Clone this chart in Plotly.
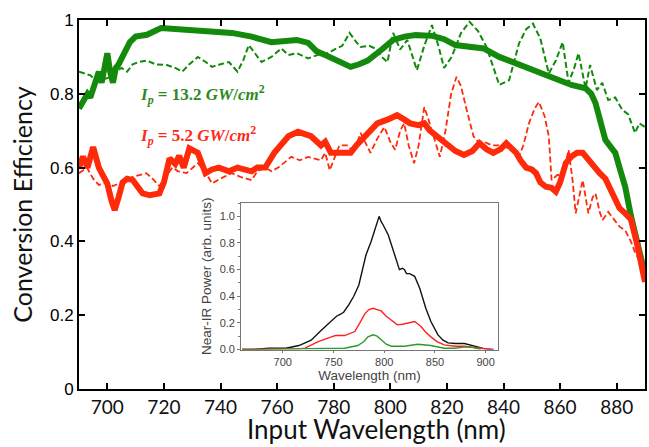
import plotly.graph_objects as go

# main plot: conversion efficiency vs input wavelength
green_solid_x = [690, 691.5, 693, 694, 695, 696, 697, 698, 699, 700, 701, 702, 703, 704, 706, 708, 710, 714,
                 719, 725, 732, 738, 744, 751, 758, 763, 767, 771, 774, 777, 781, 786, 789, 792, 797, 801,
                 805, 809, 815, 819, 823, 828, 833, 838.5, 843, 847, 851, 856, 860, 864, 869, 871, 872.5,
                 874, 876, 878, 879.5, 881, 883, 885, 887, 889, 890]
green_solid_y = [0.76, 0.78, 0.80, 0.79, 0.81, 0.84, 0.86, 0.83, 0.88, 0.91, 0.86, 0.83, 0.87, 0.88, 0.91,
                 0.94, 0.955, 0.96, 0.978, 0.975, 0.973, 0.97, 0.965, 0.955, 0.94, 0.943, 0.946, 0.938,
                 0.915, 0.905, 0.89, 0.873, 0.88, 0.89, 0.92, 0.946, 0.955, 0.959, 0.957, 0.948, 0.932,
                 0.928, 0.923, 0.90, 0.887, 0.873, 0.862, 0.851, 0.838, 0.824, 0.815, 0.80, 0.775, 0.73,
                 0.675, 0.655, 0.64, 0.60, 0.548, 0.47, 0.40, 0.33, 0.31]

green_dash_x = [690, 692, 694, 695.5, 697, 699, 701, 703, 705, 707, 709, 711, 714, 717, 721, 724, 726.5,
                729, 732, 735, 737, 740, 743, 746, 748, 750, 752, 754.5, 758, 761.5, 764, 767, 771, 775,
                778, 780, 783, 785.6, 788, 789.5, 792.6, 795.4, 797, 799, 801, 803.5, 806, 809.4, 812,
                814.7, 817, 819, 821.7, 825, 828, 831, 834, 836.5, 838.5, 842, 845.5, 848, 850.4, 853,
                856, 858.5, 860.9, 863, 865, 866.5, 869, 870.6, 873, 874.9, 877, 879.5, 882, 884, 886.5,
                888, 890]
green_dash_y = [0.86, 0.855, 0.85, 0.84, 0.837, 0.84, 0.845, 0.86, 0.87, 0.86, 0.88, 0.886, 0.89, 0.88,
                0.878, 0.87, 0.86, 0.88, 0.90, 0.885, 0.873, 0.88, 0.886, 0.86, 0.89, 0.932, 0.91, 0.886,
                0.90, 0.923, 0.905, 0.91, 0.896, 0.907, 0.91, 0.919, 0.93, 0.965, 0.94, 0.927, 0.93, 0.92,
                0.90, 0.886, 0.965, 0.92, 0.946, 0.864, 0.93, 0.986, 0.93, 0.87, 0.90, 0.965, 0.995,
                0.97, 0.927, 0.87, 0.824, 0.837, 0.937, 0.975, 0.99, 0.95, 0.855, 0.89, 0.94, 0.83, 0.87,
                0.91, 0.815, 0.878, 0.81, 0.83, 0.783, 0.79, 0.756, 0.745, 0.694, 0.72, 0.71]

red_solid_x = [690, 691.4, 693, 695, 697, 700, 701.5, 702.6, 704, 705.4, 707, 709, 712.5, 715, 718.4, 720,
               722, 724, 725.4, 727, 729, 732, 734.7, 737, 739.4, 743, 746, 748, 751, 753, 755.8, 759,
               762, 764, 767.4, 770, 772, 775.5, 777, 779, 782, 786, 788, 791, 795.4, 799, 802.4, 805,
               807, 810, 812, 814, 816.4, 819, 821, 823, 826, 829, 831.5, 834, 836.4, 839, 841, 843,
               844.5, 846, 848, 850, 851.5, 853, 855, 857, 858.5, 860, 862, 864, 866, 868, 870, 872.5,
               874, 876, 878, 879.5, 881, 883, 885, 887, 889, 890]
red_solid_y = [0.60, 0.63, 0.60, 0.656, 0.60, 0.557, 0.51, 0.485, 0.52, 0.56, 0.57, 0.566, 0.53, 0.525,
               0.53, 0.56, 0.625, 0.61, 0.632, 0.60, 0.652, 0.64, 0.585, 0.595, 0.60, 0.59, 0.60, 0.595,
               0.59, 0.60, 0.60, 0.64, 0.67, 0.685, 0.697, 0.69, 0.685, 0.66, 0.67, 0.64, 0.64, 0.64,
               0.66, 0.685, 0.72, 0.73, 0.742, 0.73, 0.72, 0.715, 0.72, 0.70, 0.685, 0.665, 0.656, 0.645,
               0.634, 0.645, 0.666, 0.65, 0.64, 0.65, 0.666, 0.65, 0.64, 0.62, 0.60, 0.595, 0.585, 0.56,
               0.548, 0.545, 0.535, 0.56, 0.612, 0.63, 0.64, 0.64, 0.62, 0.60, 0.585, 0.57, 0.54, 0.512,
               0.49, 0.476, 0.46, 0.40, 0.32, 0.29]

red_dash_x = [690, 692.8, 695, 697, 700, 702, 705, 709, 713.8, 716, 718.4, 721, 723, 725, 728, 732, 734.5,
              737, 740, 744, 747, 751, 753, 755.8, 758, 760.4, 763, 765, 768, 771, 775.5, 777, 778.6,
              782, 785, 787, 789.5, 791, 793, 795.5, 797.9, 800, 801.7, 803.5, 804.9, 806.5, 808.4, 810,
              812, 813.5, 814.7, 817.5, 819.5, 821.5, 823.4, 825, 827, 829.4, 831, 833, 836, 840, 843,
              845.5, 847, 849, 851, 852.5, 854.5, 856, 857, 859, 861, 863, 864.5, 865.5, 867, 868, 869,
              870, 871.5, 872.5, 874, 875, 877, 878, 879.5, 881, 883, 885, 886.5, 888, 890]
red_dash_y = [0.585, 0.60, 0.57, 0.553, 0.56, 0.55, 0.56, 0.575, 0.585, 0.57, 0.55, 0.58, 0.60, 0.59,
              0.585, 0.612, 0.59, 0.557, 0.57, 0.585, 0.575, 0.566, 0.59, 0.60, 0.59, 0.60, 0.615, 0.629,
              0.62, 0.629, 0.62, 0.64, 0.593, 0.66, 0.66, 0.64, 0.694, 0.67, 0.64, 0.68, 0.71, 0.67,
              0.648, 0.70, 0.72, 0.66, 0.612, 0.66, 0.764, 0.73, 0.70, 0.629, 0.70, 0.80, 0.846, 0.82,
              0.756, 0.685, 0.67, 0.67, 0.66, 0.66, 0.645, 0.63, 0.66, 0.72, 0.76, 0.778, 0.74, 0.685,
              0.566, 0.58, 0.58, 0.648, 0.56, 0.476, 0.53, 0.566, 0.52, 0.476, 0.52, 0.53, 0.48, 0.458,
              0.48, 0.47, 0.458, 0.44, 0.43, 0.40, 0.37, 0.35, 0.32]

# inset: near-IR power spectra
inset_black_x = [660, 670, 686, 703, 716, 728, 738, 748, 753, 757, 760, 765, 770, 775, 782, 787, 792, 795,
                 797, 799, 804, 810, 815, 818, 820, 822, 825, 830, 835, 841, 846, 853, 858, 863, 870,
                 879, 885, 892, 899, 908]
inset_black_y = [0, 0, 0.01, 0.01, 0.03, 0.07, 0.145, 0.22, 0.25, 0.265, 0.28, 0.335, 0.40, 0.485, 0.71,
                 0.81, 0.92, 1.0, 0.96, 0.935, 0.86, 0.725, 0.60, 0.61, 0.60, 0.57, 0.57, 0.55, 0.46,
                 0.31, 0.21, 0.11, 0.07, 0.05, 0.045, 0.045, 0.035, 0.02, 0.005, 0]

inset_red_x = [660, 703, 715, 722, 735, 748, 752, 761, 771, 776, 781, 785, 789, 793, 797, 802, 807, 813,
               818, 823, 830, 836, 841, 846, 852, 859, 870, 879, 885, 895, 905]
inset_red_y = [0, 0, 0.005, 0.01, 0.06, 0.095, 0.105, 0.105, 0.135, 0.2, 0.27, 0.30, 0.31, 0.30, 0.29,
               0.25, 0.22, 0.185, 0.19, 0.2, 0.21, 0.175, 0.13, 0.095, 0.06, 0.035, 0.025, 0.025, 0.02,
               0.01, 0]

inset_green_x = [660, 735, 761, 774, 780, 784, 789, 793, 797, 802, 807, 820, 833, 846, 859, 870, 880, 888,
                 895]
inset_green_y = [0, 0.005, 0.01, 0.03, 0.06, 0.095, 0.11, 0.1, 0.07, 0.04, 0.025, 0.025, 0.04, 0.03,
                 0.01, 0.01, 0.02, 0.015, 0]

main_xticks = [700, 720, 740, 760, 780, 800, 820, 840, 860, 880]
main_yticks = [0, 0.2, 0.4, 0.6, 0.8, 1]
main_ytext = ["0", "0.2", "0.4", "0.6", "0.8", "1"]
inset_xticks = [700, 750, 800, 850, 900]
inset_yticks = [0.0, 0.2, 0.4, 0.6, 0.8, 1.0]

GREEN = "#138a0c"
RED = "#ff2a0a"

fig = go.Figure()

fig.add_trace(go.Scatter(x=green_dash_x, y=green_dash_y, mode="lines",
                         line=dict(color=GREEN, width=2, dash="6px,3px")))
fig.add_trace(go.Scatter(x=red_dash_x, y=red_dash_y, mode="lines",
                         line=dict(color=RED, width=1.8, dash="6px,3px")))
fig.add_trace(go.Scatter(x=green_solid_x, y=green_solid_y, mode="lines",
                         line=dict(color=GREEN, width=6)))
fig.add_trace(go.Scatter(x=red_solid_x, y=red_solid_y, mode="lines",
                         line=dict(color=RED, width=6)))

# inset traces
fig.add_trace(go.Scatter(x=inset_black_x, y=inset_black_y, mode="lines", xaxis="x2", yaxis="y2",
                         line=dict(color="#111111", width=1.4)))
fig.add_trace(go.Scatter(x=inset_red_x, y=inset_red_y, mode="lines", xaxis="x2", yaxis="y2",
                         line=dict(color="#ff2020", width=1.4)))
fig.add_trace(go.Scatter(x=inset_green_x, y=inset_green_y, mode="lines", xaxis="x2", yaxis="y2",
                         line=dict(color="#2a9a2a", width=1.4)))

fig.update_layout(
    width=649, height=447,
    margin=dict(l=79, r=2, t=20, b=58),
    showlegend=False,
    plot_bgcolor="white", paper_bgcolor="white",
    xaxis=dict(
        range=[690, 890], tickvals=main_xticks, ticks="inside", ticklen=6, tickwidth=1.5,
        tickcolor="black", showline=True, linecolor="black", linewidth=2, mirror="ticks",
        showgrid=False, zeroline=False,
        tickfont=dict(family="Lato", size=19, color="#111111"),
    ),
    yaxis=dict(
        range=[0, 1], tickvals=main_yticks, ticktext=main_ytext, ticks="inside", ticklen=6,
        tickwidth=1.5, tickcolor="black", showline=True, linecolor="black", linewidth=2,
        mirror="ticks", showgrid=False, zeroline=False,
        tickfont=dict(family="Liberation Sans", size=17, color="black"),
        title=dict(text="Conversion Efficiency", font=dict(family="Lato", size=25, color="#111111"),
                   standoff=10),
    ),
    xaxis2=dict(
        domain=[0.2865, 0.74], anchor="y2", range=[659, 912], tickvals=inset_xticks,
        ticks="outside", ticklen=2, tickcolor="#777777", showline=True, linecolor="#777777",
        linewidth=1, mirror=True, showgrid=False, zeroline=False,
        tickfont=dict(family="Liberation Sans", size=11, color="#444444"),
        title=dict(text="Wavelength (nm)", font=dict(family="Liberation Sans", size=13.5, color="#444444"),
                   standoff=2),
    ),
    yaxis2=dict(
        domain=[0.107, 0.504], anchor="x2", range=[0, 1.1], tickvals=inset_yticks, tickformat=".1f",
        ticks="outside", ticklen=3, tickcolor="#777777", showline=True, linecolor="#777777",
        linewidth=1, mirror=True, showgrid=False, zeroline=False,
        minor=dict(dtick=0.1, ticks="outside", ticklen=2, tickcolor="#777777"),
        tickfont=dict(family="Liberation Sans", size=11, color="#444444"),
        title=dict(text="Near-IR Power (arb. units)",
                   font=dict(family="Liberation Sans", size=13.5, color="#444444"), standoff=4),
    ),
)

# white backing for inset
fig.add_shape(type="rect", xref="x2 domain", yref="y2 domain", x0=0, x1=1, y0=0, y1=1,
              fillcolor="white", line=dict(width=0), layer="below")

# x title, sits a bit right of centre in the original
fig.add_annotation(x=0.525, y=-0.108, xref="paper", yref="paper", showarrow=False, yanchor="middle",
                   text="Input Wavelength (nm)", font=dict(family="Lato", size=26, color="#111111"))

# intensity labels
fig.add_annotation(x=0.104, y=0.837, xref="paper", yref="paper", xanchor="left", showarrow=False,
                   text="<b><i>I</i><sub><i>p</i></sub> = 13.2 <i>GW</i>/<i>cm</i><sup>2</sup></b>",
                   font=dict(family="Liberation Serif", size=17, color="#2c8a1c"))
fig.add_annotation(x=0.104, y=0.727, xref="paper", yref="paper", xanchor="left", showarrow=False,
                   text="<b><i>I</i><sub><i>p</i></sub> = 5.2 <i>GW</i>/<i>cm</i><sup>2</sup></b>",
                   font=dict(family="Liberation Serif", size=17, color="#ff2a1a"))

# drop the default body margin so the figure sits at the window corner
fig.write_html("out.html", config={"displayModeBar": False},
               post_script="document.body.style.margin='0';")
